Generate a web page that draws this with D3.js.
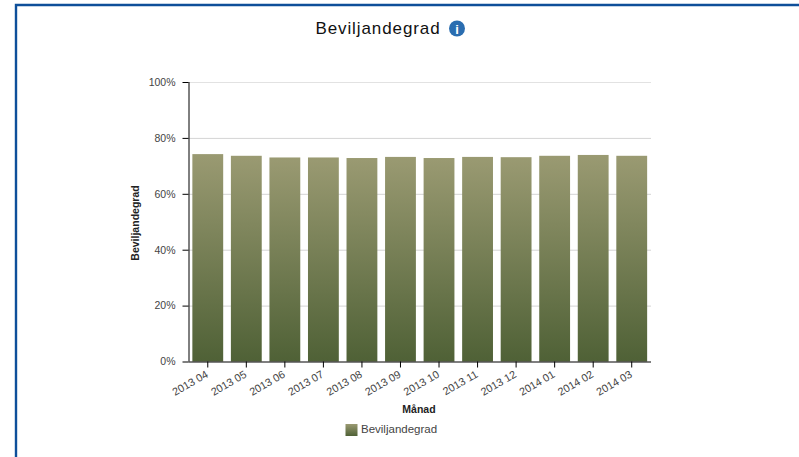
<!DOCTYPE html>
<html>
<head>
<meta charset="utf-8">
<script src="https://cdnjs.cloudflare.com/ajax/libs/d3/7.8.5/d3.min.js"></script>
<style>
  html, body { margin: 0; padding: 0; background: #fff; }
  text { font-family: "Liberation Sans", Arial, sans-serif; }
</style>
</head>
<body>
<div id="chart"></div>
<script>
// values
let months = ["2013 04", "2013 05", "2013 06", "2013 07", "2013 08", "2013 09",
              "2013 10", "2013 11", "2013 12", "2014 01", "2014 02", "2014 03"];
let grantRate = [74.2, 73.6, 73.0, 73.0, 72.8, 73.2, 72.8, 73.2, 73.1, 73.6, 73.9, 73.6];
let yTicks = [0, 20, 40, 60, 80, 100];

let svgWidth = 799;
let svgHeight = 457;
let margin = { top: 82, right: 148, bottom: 95.5, left: 188.5 };
let width = svgWidth - margin.left - margin.right;
let height = svgHeight - margin.top - margin.bottom;

let svg = d3.select("#chart").append("svg")
  .attr("width", svgWidth)
  .attr("height", svgHeight)
  .style("display", "block");

// bar gradient
let grad = svg.append("defs").append("linearGradient")
  .attr("id", "barFill")
  .attr("x1", 0).attr("y1", 0).attr("x2", 0).attr("y2", 1);
grad.append("stop").attr("offset", "0%").attr("stop-color", "#9a9a72");
grad.append("stop").attr("offset", "100%").attr("stop-color", "#4f6136");

// frame, only top and left edges show
svg.append("path")
  .attr("d", `M16,${svgHeight} V5 H${svgWidth}`)
  .attr("fill", "none")
  .attr("stroke", "#0e4f9a")
  .attr("stroke-width", 2.4);

let chartGroup = svg.append("g")
  .attr("transform", `translate(${margin.left}, ${margin.top})`);

let xScale = d3.scaleBand().domain(months).range([0, width]).paddingInner(0.2).paddingOuter(0.1);
let yScale = d3.scaleLinear().domain([0, 100]).range([height, 0]);

// gridlines
chartGroup.append("g").selectAll("line")
  .data(yTicks.filter(d => d > 0))
  .enter().append("line")
  .attr("x1", 0).attr("x2", width)
  .attr("y1", d => yScale(d) + 0.5).attr("y2", d => yScale(d) + 0.5)
  .attr("stroke", d => d === 100 ? "#e2e2e2" : "#d4d4d4")
  .attr("stroke-width", 1);

// bars
chartGroup.append("g").selectAll("rect")
  .data(grantRate)
  .enter().append("rect")
  .attr("x", (d, i) => xScale(months[i]))
  .attr("y", d => yScale(d))
  .attr("width", xScale.bandwidth())
  .attr("height", d => height - yScale(d))
  .attr("fill", "url(#barFill)");

// y axis
let leftAxis = d3.axisLeft(yScale).tickValues(yTicks).tickFormat(d => d + "%").tickSize(6).tickPadding(7);
let yAxis = chartGroup.append("g").call(leftAxis);
yAxis.selectAll("text").attr("font-size", 10.5).attr("fill", "#444").style("font-family", '"Liberation Sans", Arial, sans-serif');
yAxis.select(".domain").attr("stroke", "#000").attr("d", `M0.5,0V${height}`);
yAxis.selectAll(".tick line").attr("stroke", "#000");

// x axis
let bottomAxis = d3.axisBottom(xScale).tickSize(6).tickPadding(3);
let xAxis = chartGroup.append("g")
  .attr("transform", `translate(0, ${height})`)
  .call(bottomAxis);
xAxis.select(".domain").attr("stroke", "#000").attr("d", `M0,0.5H${width}`);
xAxis.selectAll(".tick line").attr("stroke", "#000");
xAxis.selectAll("text")
  .attr("font-size", 10.8)
  .attr("fill", "#444")
  .style("font-family", '"Liberation Sans", Arial, sans-serif')
  .attr("text-anchor", "end")
  .attr("dx", "-6.5")
  .attr("dy", "4.5")
  .attr("transform", "rotate(-30)");

// axis titles
svg.append("text")
  .attr("x", 419).attr("y", 413)
  .attr("text-anchor", "middle")
  .attr("font-size", 10.5).attr("font-weight", "bold").attr("fill", "#222")
  .text("Månad");

svg.append("text")
  .attr("transform", "translate(139, 223) rotate(-90)")
  .attr("text-anchor", "middle")
  .attr("font-size", 10.5).attr("font-weight", "bold").attr("fill", "#222")
  .text("Beviljandegrad");

// title and info icon
svg.append("text")
  .attr("x", 378).attr("y", 34)
  .attr("text-anchor", "middle")
  .attr("font-size", 17).attr("letter-spacing", 0.9).attr("fill", "#111")
  .text("Beviljandegrad");

svg.append("circle").attr("cx", 457).attr("cy", 28.5).attr("r", 8).attr("fill", "#2a6db0");
svg.append("text")
  .attr("x", 457).attr("y", 33.5)
  .attr("text-anchor", "middle")
  .attr("font-size", 13).attr("font-weight", "bold").attr("fill", "#fff")
  .text("i");

// legend
svg.append("rect")
  .attr("x", 345.5).attr("y", 424)
  .attr("width", 12).attr("height", 12)
  .attr("fill", "url(#barFill)");
svg.append("text")
  .attr("x", 361).attr("y", 433)
  .attr("font-size", 11.5).attr("fill", "#444")
  .text("Beviljandegrad");
</script>
</body>
</html>
